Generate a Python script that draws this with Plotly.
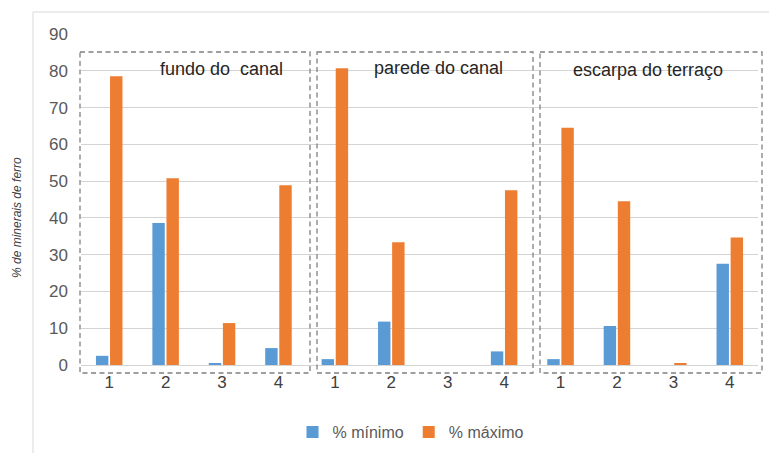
import plotly.graph_objects as go

groups = ["fundo do  canal", "parede do canal", "escarpa do terraço"]
samples = ["1", "2", "3", "4"]
minimo = [2.5, 38.6, 0.5, 4.6,   1.6, 11.8, 0.0, 3.7,   1.6, 10.6, 0.0, 27.5]
maximo = [78.5, 50.8, 11.4, 48.9,   80.7, 33.4, 0.0, 47.5,   64.5, 44.5, 0.5, 34.7]
tick_labels = samples * len(groups)

W, H = 769, 453
L, R, T, B = 81, 11, 34, 88
PW, PH = W - L - R, H - T - B

def px(x):
    return (x - L) / PW

def py(y):
    return (H - B - y) / PH

xs = list(range(len(tick_labels)))

fig = go.Figure()
fig.add_trace(go.Bar(x=xs, y=minimo, name="% mínimo", marker_color="#5B9BD5",
                     marker_line_width=0))
fig.add_trace(go.Bar(x=xs, y=maximo, name="% máximo", marker_color="#ED7D31",
                     marker_line_width=0))

shapes = []
# outer chart border
shapes.append(dict(type="line", xref="paper", yref="paper",
                   x0=px(33), x1=px(33), y0=py(12), y1=py(480),
                   line=dict(color="#D9D9D9", width=1)))
shapes.append(dict(type="line", xref="paper", yref="paper",
                   x0=px(33), x1=px(790), y0=py(12), y1=py(12),
                   line=dict(color="#D9D9D9", width=1)))
boxes = [(80, 310), (317, 533), (540, 762)]
for (a, b) in boxes:
    shapes.append(dict(type="rect", xref="paper", yref="paper",
                       x0=px(a), x1=px(b), y0=py(52), y1=py(373),
                       line=dict(color="#808080", width=1.3, dash="5px,3.5px")))

annotations = []
title_pos = [(221, 69), (438, 68), (648, 70)]
for g, (cx, cy) in zip(groups, title_pos):
    annotations.append(dict(text=g, xref="paper", yref="paper", x=px(cx), y=py(cy),
                            showarrow=False, xanchor="center", yanchor="middle",
                            font=dict(family="Arial, Liberation Sans", size=18, color="#262626")))
annotations.append(dict(text="<i>% de minerais de ferro</i>", xref="paper", yref="paper",
                        x=px(17), y=py(218), textangle=-90, showarrow=False,
                        xanchor="center", yanchor="middle",
                        font=dict(family="Arial, Liberation Sans", size=12, color="#404040")))

fig.update_layout(
    width=W, height=H,
    margin=dict(l=L, r=R, t=T, b=B, autoexpand=False),
    paper_bgcolor="white", plot_bgcolor="white",
    barmode="group", bargap=0.5, bargroupgap=0.12,
    font=dict(family="Arial, Liberation Sans", color="#595959"),
    xaxis=dict(tickmode="array", tickvals=xs, ticktext=tick_labels,
               range=[-0.5, len(xs) - 0.5], showgrid=False, zeroline=False,
               showline=False, ticks="", tickfont=dict(size=17, color="#404040"),
               ticklabelstandoff=5, automargin=False),
    yaxis=dict(range=[0, 90], dtick=10, showgrid=True, gridcolor="#D4D4D4",
               gridwidth=1.2, zeroline=True, zerolinecolor="#D4D4D4", zerolinewidth=1.2,
               showline=False, ticks="", tickfont=dict(size=17, color="#595959"),
               ticklabelstandoff=12, automargin=False),
    legend=dict(orientation="h", xref="container", yref="container",
                x=411 / W, xanchor="center", y=1 - 432 / H, yanchor="middle",
                font=dict(size=16, color="#595959"), itemwidth=30,
                traceorder="normal"),
    shapes=shapes, annotations=annotations,
)

fig.write_html("out.html", config={"displayModeBar": False},
               post_script="document.body.style.margin='0';document.body.style.overflow='hidden';")
